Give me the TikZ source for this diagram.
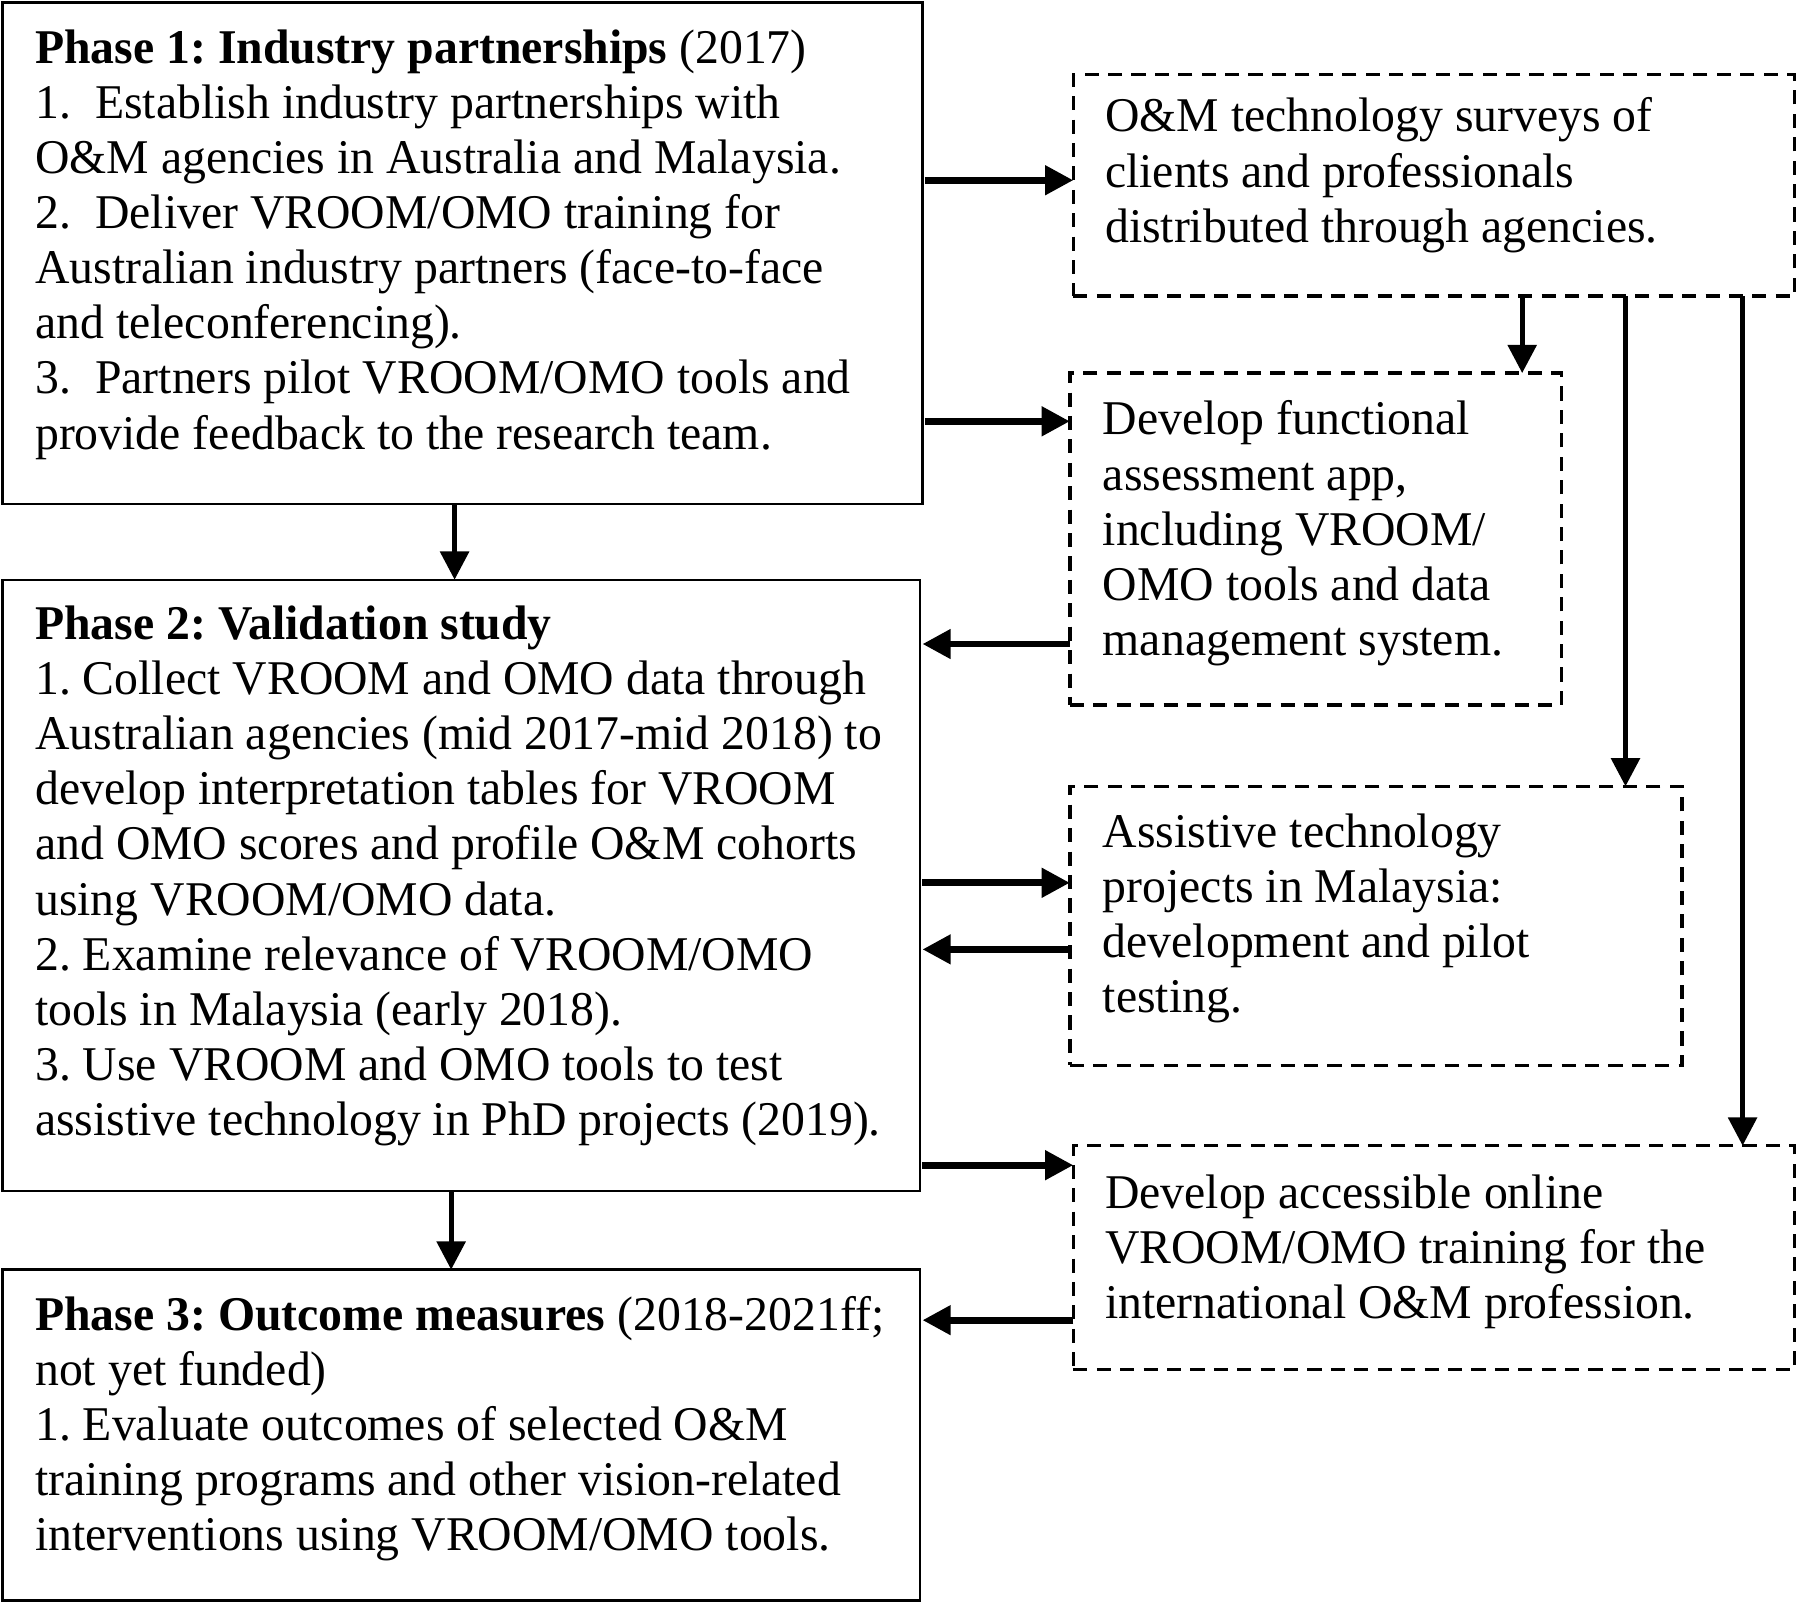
\documentclass[tikz,border=0pt]{standalone}
\usepackage{fontspec}
\setmainfont[FakeStretch=0.985]{Liberation Serif}
\usetikzlibrary{arrows.meta}
\newcommand{\fl}{\rule{0pt}{10pt}}
\frenchspacing
\begin{document}
\begin{tikzpicture}[x=0.01cm,y=-0.01cm,
 solidbox/.style={draw,line width=0.6pt,anchor=north west,inner sep=0,outer sep=0},
 dashbox/.style={draw,line width=0.9pt,dash pattern=on 3.5pt off 2.3pt,anchor=north west,inner sep=0,outer sep=0},
 txt/.style={anchor=north west,align=left,inner sep=0,font=\fontsize{12}{13.66}\selectfont},
 harrow/.style={-{Triangle[length=7pt,width=7pt]},line width=1.7pt},
 varrow/.style={-{Triangle[length=7pt,width=7pt]},line width=1.25pt}]
\useasboundingbox (0,0) rectangle (1568,1396);
% boxes
\node[solidbox,minimum width=8.01cm,minimum height=4.37cm] (p1) at (2,2) {};
\node[solidbox,minimum width=7.99cm,minimum height=5.32cm] (p2) at (2,505) {};
\node[solidbox,minimum width=7.99cm,minimum height=2.88cm] (p3) at (2,1106) {};
\node[dashbox,minimum width=6.28cm,minimum height=1.93cm] (d1) at (935,65) {};
\node[dashbox,minimum width=4.28cm,minimum height=2.89cm] (d2) at (932,325) {};
\node[dashbox,minimum width=5.33cm,minimum height=2.43cm] (d3) at (932,685) {};
\node[dashbox,minimum width=6.28cm,minimum height=1.95cm] (d4) at (935,998) {};
% texts
\node[txt] (t1) at (30,19) {\fl\textbf{Phase 1: Industry partnerships} (2017)\\
1.\hspace{0.5em}Establish industry partnerships with\\
O\&M agencies in Australia and Malaysia.\\
2.\hspace{0.5em}Deliver VROOM/OMO training for\\
Australian industry partners (face-to-face\\
and teleconferencing).\\
3.\hspace{0.5em}Partners pilot VROOM/OMO tools and\\
provide feedback to the research team.};
\node[txt] (t2) at (30,521) {\fl\textbf{Phase 2: Validation study}\\
1. Collect VROOM and OMO data through\\
Australian agencies (mid 2017-mid 2018) to\\
develop interpretation tables for VROOM\\
and OMO scores and profile O\&M cohorts\\
using VROOM/OMO data.\\
2. Examine relevance of VROOM/OMO\\
tools in Malaysia (early 2018).\\
3. Use VROOM and OMO tools to test\\
assistive technology in PhD projects (2019).};
\node[txt] (t3) at (30,1123) {\fl\textbf{Phase 3: Outcome measures} (2018-2021ff;\\
not yet funded)\\
1. Evaluate outcomes of selected O\&M\\
training programs and other vision-related\\
interventions using VROOM/OMO tools.};
\node[txt] (s1) at (962,79) {\fl O\&M technology surveys of\\
clients and professionals\\
distributed through agencies.};
\node[txt] (s2) at (960,343) {\fl Develop functional\\
assessment app,\\
including VROOM/\\
OMO tools and data\\
management system.};
\node[txt] (s3) at (960,702) {\fl Assistive technology\\
projects in Malaysia:\\
development and pilot\\
testing.};
\node[txt] (s4) at (962,1017) {\fl Develop accessible online\\
VROOM/OMO training for the\\
international O\&M profession.};
% helper coordinates
\coordinate (ya) at (0,157);
\coordinate (yb) at (0,367);
\coordinate (yc) at (0,561);
\coordinate (yd) at (0,769);
\coordinate (ye) at (0,827);
\coordinate (yf) at (0,1015);
\coordinate (yg) at (0,1150);
\coordinate (xa) at (396,0);
\coordinate (xb) at (393,0);
\coordinate (xc) at (1326,0);
\coordinate (xd) at (1416,0);
\coordinate (xe) at (1518,0);
% arrows
\draw[harrow] ([xshift=0.6pt]p1.east |- ya) -- (d1.west |- ya);
\draw[harrow] ([xshift=0.6pt]p1.east |- yb) -- (d2.west |- yb);
\draw[harrow] (d2.west |- yc) -- ([xshift=0.6pt]p2.east |- yc);
\draw[harrow] ([xshift=0.6pt]p2.east |- yd) -- (d3.west |- yd);
\draw[harrow] (d3.west |- ye) -- ([xshift=0.6pt]p2.east |- ye);
\draw[harrow] ([xshift=0.6pt]p2.east |- yf) -- (d4.west |- yf);
\draw[harrow] (d4.west |- yg) -- ([xshift=0.6pt]p3.east |- yg);
\draw[varrow] (xa |- p1.south) -- (xa |- p2.north);
\draw[varrow] (xb |- p2.south) -- (xb |- p3.north);
\draw[varrow] (xc |- d1.south) -- (xc |- d2.north);
\draw[varrow] (xd |- d1.south) -- (xd |- d3.north);
\draw[varrow] (xe |- d1.south) -- (xe |- d4.north);
\end{tikzpicture}
\end{document}
